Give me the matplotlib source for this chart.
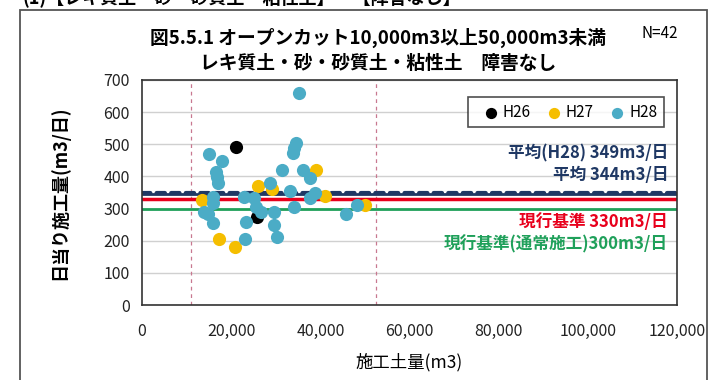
import matplotlib
matplotlib.use("Agg")
import matplotlib.pyplot as plt
from matplotlib.patches import Rectangle

plt.rcParams['font.family'] = ['Noto Sans CJK JP', 'DejaVu Sans']

# 施工土量(m3), 日当り施工量(m3/日)
h26_x = [21100, 25900]
h26_y = [492, 275]
h27_x = [26100, 29100, 39000, 41000, 13400, 17300, 20900, 50000]
h27_y = [370, 360, 420, 339, 327, 204, 180, 311]
h28_x = [35300, 15100, 18000, 16600, 16900, 17100, 34500, 34100, 33800, 31300,
         36200, 37700, 28700, 33200, 38800, 37700, 16000, 15900, 22900, 25100,
         25600, 26800, 29500, 34200, 13900, 14900, 15900, 23300, 29600, 30200,
         23100, 45800, 48300]
h28_y = [660, 470, 448, 415, 397, 379, 503, 489, 472, 420,
         420, 394, 379, 356, 347, 332, 337, 316, 337, 332,
         306, 290, 290, 306, 290, 283, 254, 259, 249, 212,
         204, 283, 311]

avg_h28 = 349
avg_all = 344
std_now = 330
std_normal = 300
range_lines = [11000, 52500]

c_black = '#000000'
c_yellow = '#F5BE00'
c_cyan = '#4BACC6'
c_navy = '#1F3864'
c_red = '#E8001C'
c_green = '#1FA05A'

fig = plt.figure(figsize=(7.18, 3.80), dpi=100)
ax = fig.add_axes([142 / 718, 75 / 380, 535 / 718, 225 / 380])

ax.set_xlim(0, 120000)
ax.set_ylim(0, 700)
ax.set_yticks(range(0, 701, 100))
ax.set_xticks(range(0, 120001, 20000))
ax.set_xticklabels([f"{v:,}" for v in range(0, 120001, 20000)])
ax.grid(axis='y', color='#D0D0D0', lw=1)
ax.set_axisbelow(True)
ax.tick_params(length=0, labelsize=11.5, colors='#222222')
ax.tick_params(axis='x', pad=13)
ax.tick_params(axis='y', pad=9)
for s in ax.spines.values():
    s.set_color('#333333')
    s.set_linewidth(1.2)

for xv in range_lines:
    ax.axvline(xv, color='#C87890', lw=0.9, ls=(0, (3, 3)), zorder=1)

ax.axhline(std_normal, color=c_green, lw=2, zorder=2)
ax.axhline(std_now, color=c_red, lw=2.5, zorder=2)
ax.axhline(avg_all, color=c_navy, lw=2, zorder=2)
ax.axhline(avg_h28, color=c_navy, lw=3, ls=(0, (2, 1.5)), dash_capstyle='round', zorder=2)

ax.scatter(h26_x, h26_y, s=90, color=c_black, label='H26', zorder=3, linewidths=0)
ax.scatter(h27_x, h27_y, s=90, color=c_yellow, label='H27', zorder=3, linewidths=0)
ax.scatter(h28_x, h28_y, s=90, color=c_cyan, label='H28', zorder=3, linewidths=0)

leg = ax.legend(loc='upper right', ncol=3, fontsize=11, frameon=True, fancybox=False,
                handletextpad=-0.2, columnspacing=0.5, markerscale=0.85,
                borderpad=0.45, bbox_to_anchor=(0.99, 0.96))
leg.get_frame().set_edgecolor('#222222')
leg.get_frame().set_linewidth(1.2)

ax.text(118000, 470, f"平均(H28) {avg_h28}m3/日", color=c_navy, fontsize=12,
        fontweight='bold', ha='right', va='center')
ax.text(118000, 404, f"平均 {avg_all}m3/日", color=c_navy, fontsize=12,
        fontweight='bold', ha='right', va='center')
ax.text(118000, 258, f"現行基準 {std_now}m3/日", color=c_red, fontsize=12,
        fontweight='bold', ha='right', va='center')
ax.text(118000, 190, f"現行基準(通常施工){std_normal}m3/日", color=c_green, fontsize=12,
        fontweight='bold', ha='right', va='center')

ax.set_xlabel("施工土量(m3)", fontsize=12.5, labelpad=9)
ax.set_ylabel("日当り施工量(m3/日)", fontsize=13, fontweight='bold', labelpad=24)

fig.text(378 / 718, 1 - 38 / 380, "図5.5.1 オープンカット10,000m3以上50,000m3未満",
         ha='center', va='center', fontsize=13.5, fontweight='bold')
fig.text(378 / 718, 1 - 63 / 380, "レキ質土・砂・砂質土・粘性土　障害なし",
         ha='center', va='center', fontsize=13.5, fontweight='bold')
fig.text(660 / 718, 1 - 33 / 380, "N=42", ha='center', va='center', fontsize=11)

# cut-off heading above the chart frame
fig.text(22 / 718, 1 - 4 / 380, "(1)【レキ質土・砂・砂質土・粘性土】・【障害なし】",
         ha='left', va='baseline', fontsize=13, fontweight='bold')

fig.patches.append(Rectangle((20 / 718, -0.05), 687 / 718, 1 - 10 / 380 + 0.05,
                             transform=fig.transFigure, fill=False,
                             edgecolor='#555555', lw=1.3))

fig.savefig('out.png', dpi=100)
